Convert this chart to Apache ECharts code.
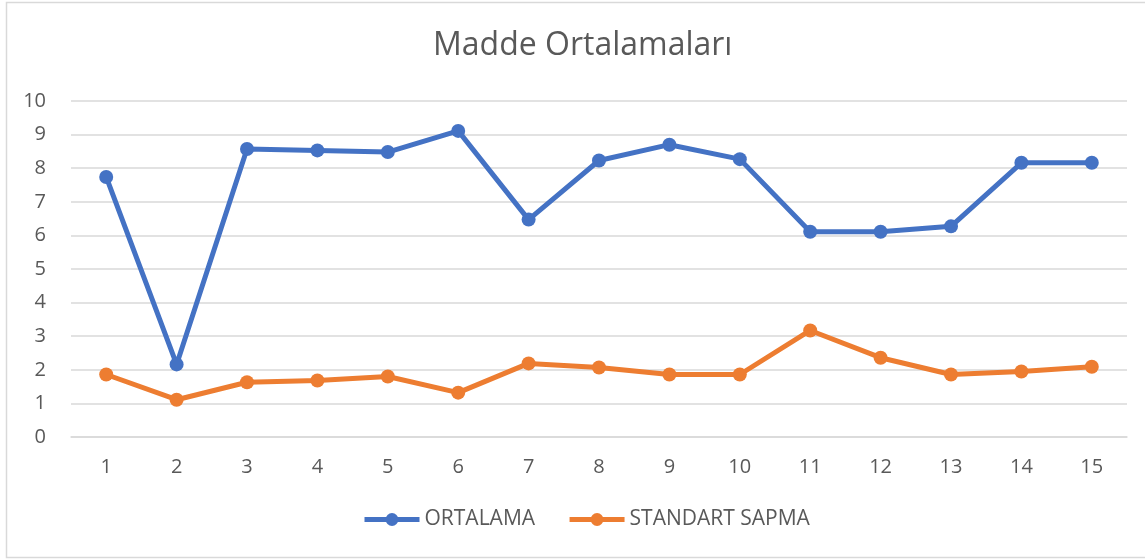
<!DOCTYPE html>
<html>
<head>
<meta charset="utf-8">
<script src="https://cdn.jsdelivr.net/npm/echarts@6/dist/echarts.min.js"></script>
<style>
  html, body { margin: 0; padding: 0; background: #fff; }
  #chart { width: 1145px; height: 559px; }
</style>
</head>
<body>
<div id="chart"></div>
<script>
// Madde numbers on the x axis
const items = ['1', '2', '3', '4', '5', '6', '7', '8', '9', '10', '11', '12', '13', '14', '15'];
// ORTALAMA values
const ortalama = [7.74, 2.16, 8.57, 8.53, 8.48, 9.11, 6.47, 8.23, 8.70, 8.27, 6.11, 6.11, 6.27, 8.16, 8.16];
// STANDART SAPMA values
const sapma = [1.86, 1.11, 1.63, 1.68, 1.80, 1.32, 2.19, 2.07, 1.86, 1.86, 3.17, 2.36, 1.86, 1.95, 2.09];
const seriesNames = ['ORTALAMA', 'STANDART SAPMA'];

const textColor = '#595959';
const fontFamily = '"Open Sans", "Liberation Sans", sans-serif';

let chart = echarts.init(document.getElementById('chart'), null, { renderer: 'canvas' });

function lineSeries(name, data, color) {
    return {
        name: name,
        type: 'line',
        data: data,
        symbol: 'circle',
        symbolSize: 14,
        lineStyle: { width: 5, color: color },
        itemStyle: { color: color },
        emphasis: { disabled: true },
        z: name === 'ORTALAMA' ? 3 : 2
    };
}

chart.setOption({
    animation: false,
    textStyle: { fontFamily: fontFamily },
    graphic: [{
        type: 'rect',
        shape: { x: 6.5, y: 2.5, width: 1150, height: 555 },
        style: { fill: 'none', stroke: '#d9d9d9', lineWidth: 1.5 },
        silent: true
    }],
    title: {
        text: 'Madde Ortalamaları',
        left: 428,
        top: 25,
        textStyle: { color: textColor, fontSize: 32, fontWeight: 'normal', fontFamily: fontFamily }
    },
    legend: {
        data: seriesNames,
        bottom: 24,
        left: 357,
        itemWidth: 55,
        itemHeight: 16,
        itemGap: 32,
        lineStyle: { width: 5 },
        textStyle: { color: textColor, fontSize: 21, fontFamily: fontFamily }
    },
    grid: {
        left: 71,
        right: 18,
        top: 101,
        bottom: 122
    },
    xAxis: {
        type: 'category',
        data: items,
        boundaryGap: true,
        axisLine: { show: true, lineStyle: { color: '#d9d9d9', width: 1.5 } },
        axisTick: { show: false },
        axisLabel: { color: textColor, fontSize: 20, margin: 20, fontFamily: fontFamily }
    },
    yAxis: {
        type: 'value',
        min: 0,
        max: 10,
        interval: 1,
        axisLine: { show: false },
        axisTick: { show: false },
        splitLine: { lineStyle: { color: '#d9d9d9', width: 1.5 } },
        axisLabel: { color: textColor, fontSize: 20, margin: 25, fontFamily: fontFamily }
    },
    series: [
        lineSeries(seriesNames[0], ortalama, '#4472c4'),
        lineSeries(seriesNames[1], sapma, '#ed7d31')
    ]
});
</script>
</body>
</html>
